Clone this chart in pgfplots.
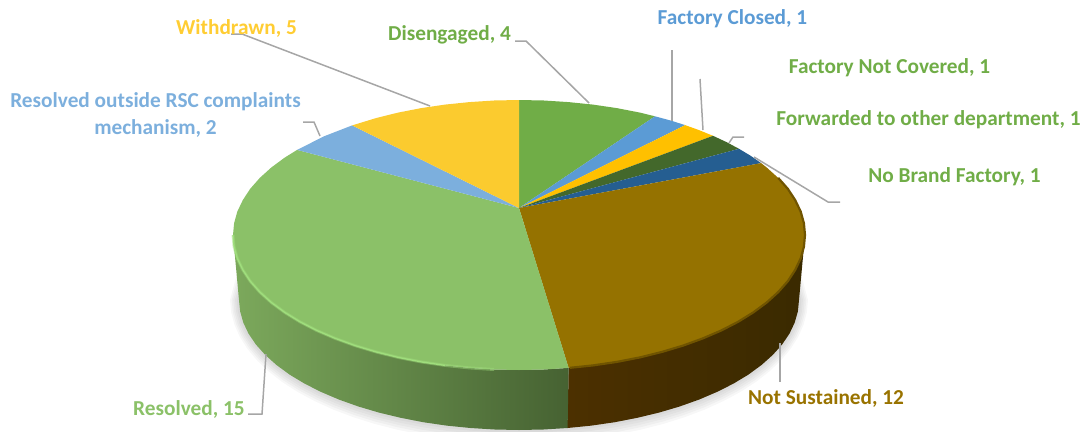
\documentclass[border=0pt]{standalone}
\usepackage{pgfplots}
\usepackage{pgfplotstable}
\usepackage{fontspec}
\setmainfont{Carlito}
\pgfplotsset{compat=1.18}
\definecolor{cDis}{HTML}{70AD47}
\definecolor{cClo}{HTML}{5B9BD5}
\definecolor{cCov}{HTML}{FFC000}
\definecolor{cFor}{HTML}{43682B}
\definecolor{cBra}{HTML}{255E91}
\definecolor{cNot}{HTML}{957200}
\definecolor{cRes}{HTML}{8BC168}
\definecolor{cOut}{HTML}{7CAFDD}
\definecolor{cWit}{HTML}{FBCB2F}
\definecolor{cLead}{HTML}{A6A6A6}
\definecolor{tWit}{HTML}{FFCD33}
\definecolor{tNot}{HTML}{997300}
\definecolor{wB1}{HTML}{4C3000}
\definecolor{wB2}{HTML}{3E2C00}
\definecolor{wB3}{HTML}{3A2A00}
\definecolor{wG1}{HTML}{7CA95C}
\definecolor{wG2}{HTML}{6A9250}
\definecolor{wG3}{HTML}{466232}
\pgfplotstableread{
x y
760.0 230.0
789.5 266.4
799 300
797.9 311.3
794.7 322.6
789.5 333.6
782.1 344.5
772.8 354.9
761.5 365
748.4 374.6
733.5 383.6
717 391.9
699 399.6
679.6 406.5
659 412.6
637.3 417.8
614.8 422.2
591.5 425.6
567.6 428
543.4 429.5
519 430
494.6 429.5
470.4 428
446.5 425.6
423.2 422.2
400.7 417.8
379 412.6
358.4 406.5
339 399.6
321 391.9
304.5 383.6
289.6 374.6
276.5 365
265.2 354.9
255.9 344.5
248.5 333.6
243.3 322.6
240.1 311.3
239 300
248.5 266.4
278.0 230.0
}\bottomarc
\newcommand{\shadowlayer}[2]{%
\addplot[draw=none,fill=black,fill opacity=0.03] table[x expr={519+(\thisrow{x}-519)*#1},y expr={300+(\thisrow{y}-300)*#2}] {\bottomarc} --cycle;}
\newcommand{\lbl}[3]{\node[font=\fontsize{21.3}{27}\selectfont\bfseries,text=#3,align=center,inner sep=0pt] at (axis cs:#1) {#2};}
\begin{document}
\begin{tikzpicture}
\begin{axis}[
  width=1086pt,height=431pt,scale only axis,
  xmin=0,xmax=1086,ymin=0,ymax=431,y dir=reverse,
  hide axis,clip=true]
\path (axis cs:0,0) rectangle (axis cs:1086,431);
\shadowlayer{1.008}{1.02}
\shadowlayer{1.014}{1.04}
\shadowlayer{1.02}{1.06}
\shadowlayer{1.026}{1.08}
\shadowlayer{1.032}{1.10}
% walls
\addplot[draw=none,left color=wB1,middle color=wB2,right color=wB3] coordinates {
(805,235)(803.9,246.8)(800.7,258.4)(795.2,269.9)(787.8,281.2)(778.2,292.1)(766.7,302.5)(753.3,312.4)(738.1,321.8)(721.2,330.5)(702.8,338.4)(683,345.6)(662,351.9)(639.9,357.4)(616.8,361.9)(593,365.4)(568.6,367.9)
(567.6,428)(591.5,425.6)(614.8,422.2)(637.3,417.8)(659,412.6)(679.6,406.5)(699,399.6)(717,391.9)(733.5,383.6)(748.4,374.6)(761.5,365)(772.8,354.9)(782.1,344.5)(789.5,333.6)(794.7,322.6)(797.9,311.3)(799,300)} --cycle;
\addplot[draw=none,left color=wG1,middle color=wG2,right color=wG3] coordinates {
(568.6,367.9)(543.9,369.5)(519,370)(494.1,369.5)(469.4,367.9)(445,365.4)(421.2,361.9)(398.1,357.4)(376,351.9)(355,345.6)(335.2,338.4)(316.8,330.5)(299.9,321.8)(284.7,312.4)(271.3,302.5)(259.8,292.1)(250.2,281.2)(242.8,269.9)(237.3,258.4)(234.1,246.8)(233,235)
(239,300)(240.1,311.3)(243.3,322.6)(248.5,333.6)(255.9,344.5)(265.2,354.9)(276.5,365)(289.6,374.6)(304.5,383.6)(321,391.9)(339,399.6)(358.4,406.5)(379,412.6)(400.7,417.8)(423.2,422.2)(446.5,425.6)(470.4,428)(494.6,429.5)(519,430)(543.4,429.5)(567.6,428)} --cycle;
% top face
\addplot[draw=none,fill=cDis] coordinates {(519,208)(519,100)(543.9,100.5)(568.6,102.1)(593,104.6)(616.8,108.1)(639.9,112.6)(655,116.3)} --cycle;
\addplot[draw=none,fill=cClo] coordinates {(519,208)(655,116.3)(670.6,120.5)(685.1,125.1)} --cycle;
\addplot[draw=none,fill=cCov] coordinates {(519,208)(685.1,125.1)(699,130.1)(713,135.8)} --cycle;
\addplot[draw=none,fill=cFor] coordinates {(519,208)(713,135.8)(726.5,142.1)(739,148.8)} --cycle;
\addplot[draw=none,fill=cBra] coordinates {(519,208)(739,148.8)(750.4,155.6)(761.1,163.1)} --cycle;
\addplot[draw=none,fill=cNot] coordinates {(519,208)(761.1,163.1)(766.7,167.5)(778.2,177.9)(787.8,188.8)(795.2,200.1)(800.7,211.6)(803.9,223.2)(805,235)(803.9,246.8)(800.7,258.4)(795.2,269.9)(787.8,281.2)(778.2,292.1)(766.7,302.5)(753.3,312.4)(738.1,321.8)(721.2,330.5)(702.8,338.4)(683,345.6)(662,351.9)(639.9,357.4)(616.8,361.9)(593,365.4)(568.6,367.9)} --cycle;
\addplot[draw=none,fill=cRes] coordinates {(519,208)(568.6,367.9)(543.9,369.5)(519,370)(494.1,369.5)(469.4,367.9)(445,365.4)(421.2,361.9)(398.1,357.4)(376,351.9)(355,345.6)(335.2,338.4)(316.8,330.5)(299.9,321.8)(284.7,312.4)(271.3,302.5)(259.8,292.1)(250.2,281.2)(242.8,269.9)(237.3,258.4)(234.1,246.8)(233,235)(234.1,223.2)(237.3,211.6)(242.8,200.1)(250.2,188.8)(259.8,177.9)(271.3,167.5)(284.7,157.6)(297.1,149.9)} --cycle;
\addplot[draw=none,fill=cOut] coordinates {(519,208)(297.1,149.9)(324,136.3)(352.1,125.4)} --cycle;
\addplot[draw=none,fill=cWit] coordinates {(519,208)(352.1,125.4)(376,118.1)(398.1,112.6)(421.2,108.1)(445,104.6)(469.4,102.1)(494.1,100.5)(519,100)} --cycle;
% rim highlights
\addplot[line width=3pt,color={rgb,255:red,160;green,222;blue,125},opacity=0.45,line join=round] coordinates {(233,235)(234.1,246.8)(237.3,258.4)(242.8,269.9)(250.2,281.2)(259.8,292.1)(271.3,302.5)(284.7,312.4)(299.9,321.8)(316.8,330.5)(335.2,338.4)(355,345.6)(376,351.9)(398.1,357.4)(421.2,361.9)(445,365.4)(469.4,367.9)(494.1,369.5)};
\addplot[line width=1.3pt,color={rgb,255:red,160;green,222;blue,125},line join=round] coordinates {(233,235)(234.1,246.8)(237.3,258.4)(242.8,269.9)(250.2,281.2)(259.8,292.1)(271.3,302.5)(284.7,312.4)(299.9,321.8)(316.8,330.5)(335.2,338.4)(355,345.6)(376,351.9)(398.1,357.4)(421.2,361.9)(445,365.4)};
\addplot[line width=2.2pt,color={rgb,255:red,112;green,84;blue,0},line join=round] coordinates {(778.2,177.9)(787.8,188.8)(795.2,200.1)(800.7,211.6)(803.9,223.2)(805,235)(803.9,246.8)(800.7,258.4)(795.2,269.9)(787.8,281.2)(778.2,292.1)(766.7,302.5)(753.3,312.4)(738.1,321.8)(721.2,330.5)(702.8,338.4)(683,345.6)(662,351.9)(639.9,357.4)(616.8,361.9)(593,365.4)(570,367.8)};
% leaders
\addplot[cLead,line width=1.5pt] coordinates {(231,34)(242,34)(430,106)};
\addplot[cLead,line width=1.5pt] coordinates {(515,41)(526,41)(589,103)};
\addplot[cLead,line width=1.5pt] coordinates {(672,50)(672,121)};
\addplot[cLead,line width=1.5pt] coordinates {(700,79)(703,130)};
\addplot[cLead,line width=1.5pt] coordinates {(744,137)(733,137)(729,143)};
\addplot[cLead,line width=1.5pt] coordinates {(840,202)(828,202)(754,157)};
\addplot[cLead,line width=1.5pt] coordinates {(303,122)(314,122)(320,136)};
\addplot[cLead,line width=1.5pt] coordinates {(248,414)(262,414)(266,354)};
\addplot[cLead,line width=1.5pt] coordinates {(780,382)(780,343)};
% labels
\lbl{236.5,28}{Withdrawn, 5}{tWit}
\lbl{449.5,35}{Disengaged, 4}{cDis}
\lbl{732.5,19}{Factory Closed, 1}{cClo}
\lbl{889.5,68}{Factory Not Covered, 1}{cDis}
\lbl{928.5,120}{Forwarded to other department, 1}{cDis}
\lbl{954.5,177}{No Brand Factory, 1}{cDis}
\lbl{155.5,115}{Resolved outside RSC complaints\\mechanism, 2}{cOut}
\lbl{189,409}{Resolved, 15}{cRes}
\lbl{826,398}{Not Sustained, 12}{tNot}
\end{axis}
\end{tikzpicture}
\end{document}
